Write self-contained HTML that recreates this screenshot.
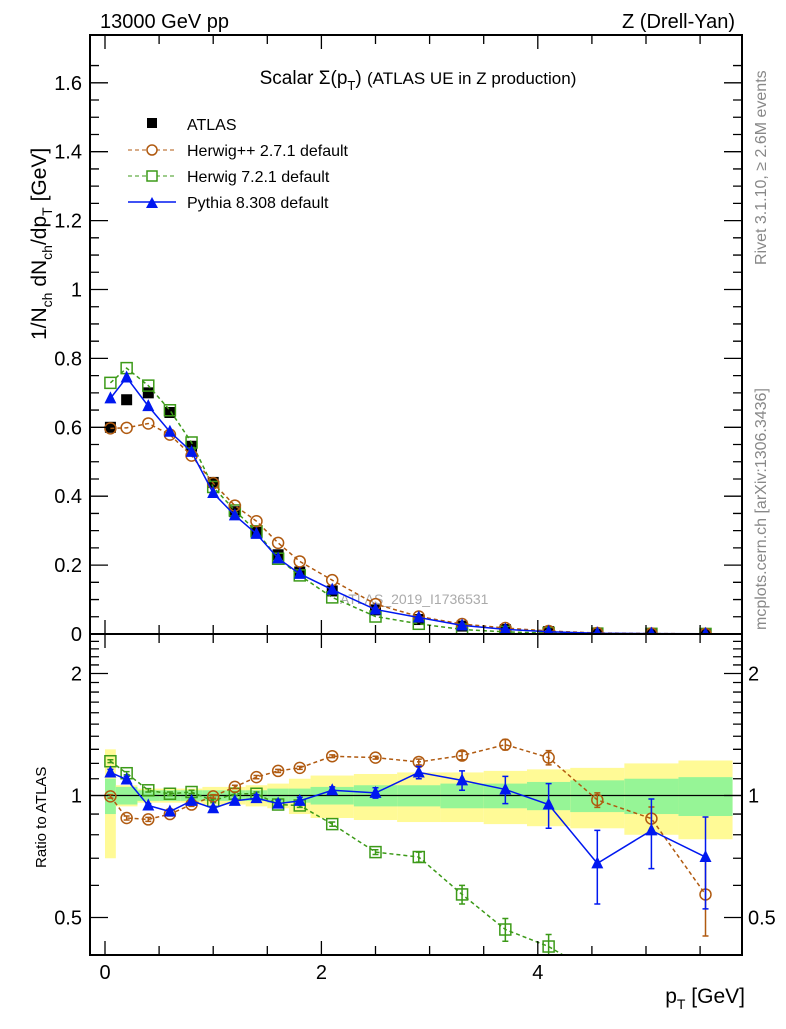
<!DOCTYPE html>
<html><head><meta charset="utf-8"><style>
body{margin:0;background:#fff;width:786px;height:1024px;overflow:hidden}
svg{font-family:"Liberation Sans",sans-serif}
</style></head><body>
<svg id="c" width="786" height="1024" viewBox="0 0 786 1024">
<text x="100" y="28" font-size="20">13000 GeV pp</text>
<text x="735" y="28" font-size="20" text-anchor="end">Z (Drell-Yan)</text>
<text x="418" y="84" font-size="19" text-anchor="middle">Scalar Σ(p<tspan dy="6" font-size="13">T</tspan><tspan dy="-6">) </tspan><tspan font-size="17">(ATLAS UE in Z production)</tspan></text>
<text transform="translate(766,265) rotate(-90)" font-size="16" fill="#888">Rivet 3.1.10, ≥ 2.6M events</text>
<text transform="translate(766,630) rotate(-90)" font-size="16" fill="#888">mcplots.cern.ch [arXiv:1306.3436]</text>
<text transform="translate(46,340) rotate(-90)" font-size="21">1/N<tspan dy="6" font-size="14">ch</tspan><tspan dy="-6"> dN</tspan><tspan dy="6" font-size="14">ch</tspan><tspan dy="-6">/dp</tspan><tspan dy="6" font-size="14">T</tspan><tspan dy="-6"> [GeV]</tspan></text>
<text transform="translate(46,868) rotate(-90)" font-size="15">Ratio to ATLAS</text>
<text x="745" y="1003" font-size="21" text-anchor="end">p<tspan dy="6" font-size="14">T</tspan><tspan dy="-6"> [GeV]</tspan></text>
<text x="340" y="604" font-size="14" fill="#aaa">ATLAS_2019_I1736531</text>
<g id="main"></g><g id="ratio"></g><g id="axes"></g>
<g font-size="16">
<rect x="147" y="118" width="10" height="10"/>
<text x="187" y="130">ATLAS</text>
<line x1="128" y1="150" x2="176" y2="150" stroke="#b05a10" stroke-dasharray="4,3"/>
<circle cx="152" cy="150" r="5" fill="#fff" stroke="#b05a10" stroke-width="1.5"/>
<text x="187" y="156">Herwig++ 2.7.1 default</text>
<line x1="128" y1="176" x2="176" y2="176" stroke="#3c9a18" stroke-dasharray="4,3"/>
<rect x="147" y="171" width="10" height="10" fill="#fff" stroke="#3c9a18" stroke-width="1.5"/>
<text x="187" y="182">Herwig 7.2.1 default</text>
<line x1="128" y1="202" x2="176" y2="202" stroke="#0018f0" stroke-width="1.5"/>
<path d="M146,208 L158,208 L152,197 Z" fill="#0018f0"/>
<text x="187" y="208">Pythia 8.308 default</text>
</g>
</svg>
<script>
const binEdges=[0,0.1,0.3,0.5,0.7,0.9,1.1,1.3,1.5,1.7,1.9,2.3,2.7,3.1,3.5,3.9,4.3,4.8,5.3,5.8];
const atlasValues=[0.600,0.680,0.700,0.643,0.545,0.440,0.355,0.295,0.230,0.180,0.125,0.070,0.042,0.023,0.013,0.007,0.003,0.0015,0.0008];
const pythiaRatio=[1.14,1.095,0.945,0.913,0.97,0.93,0.97,0.985,0.955,0.97,1.03,1.015,1.14,1.09,1.035,0.95,0.68,0.82,0.705];
const pythiaRatioErr=[0.02,0.02,0.01,0.01,0.01,0.01,0.01,0.02,0.02,0.02,0.02,0.03,0.04,0.06,0.08,0.12,0.14,0.16,0.18];
const herwigppRatio=[0.995,0.88,0.873,0.90,0.95,0.995,1.05,1.11,1.15,1.17,1.25,1.24,1.21,1.255,1.335,1.24,0.975,0.877,0.57];
const herwigppRatioErr=[0.01,0.01,0.01,0.01,0.01,0.01,0.01,0.01,0.01,0.01,0.01,0.01,0.02,0.03,0.04,0.05,0.04,0.06,0.12];
const herwig7Ratio=[1.215,1.135,1.03,1.01,1.02,0.97,1.01,1.01,0.95,0.945,0.85,0.725,0.705,0.57,0.467,0.424,0.36,0.3,0.25];
const herwig7RatioErr=[0.01,0.01,0.01,0.01,0.01,0.01,0.01,0.01,0.01,0.01,0.01,0.01,0.02,0.03,0.03,0.03,0.03,0.03,0.03];
const statBand=[0.10,0.05,0.03,0.03,0.03,0.03,0.03,0.03,0.04,0.04,0.05,0.06,0.06,0.07,0.07,0.08,0.09,0.10,0.11];
const totalBand=[0.30,0.06,0.04,0.04,0.04,0.05,0.05,0.06,0.07,0.10,0.12,0.13,0.14,0.14,0.15,0.16,0.17,0.20,0.22];
const mainTicks=[0,0.2,0.4,0.6,0.8,1,1.2,1.4,1.6];
const ratioTicks=[0.5,1,2];
const xTicks=[0,2,4];

const NS="http://www.w3.org/2000/svg";
const L=90,R=742,T=35,MB=634,RB=955;
const X=v=>105+v*108.2;
const Y=v=>634-v*344.5;
const YR=v=>795.5-Math.log2(v)*122;
function mk(tag,attrs,parent){const e=document.createElementNS(NS,tag);for(const k in attrs)e.setAttribute(k,attrs[k]);parent.appendChild(e);return e;}
const main=document.getElementById('main'),ratio=document.getElementById('ratio'),axes=document.getElementById('axes');
const centers=binEdges.slice(0,-1).map((e,i)=>(e+binEdges[i+1])/2);
const defs=mk('defs',{},document.getElementById('c'));
const cm=mk('clipPath',{id:'cm'},defs);mk('rect',{x:L,y:T,width:R-L,height:MB-T},cm);
const cr=mk('clipPath',{id:'cr'},defs);mk('rect',{x:L,y:MB,width:R-L,height:RB-MB},cr);
main.setAttribute('clip-path','url(#cm)');ratio.setAttribute('clip-path','url(#cr)');

for(let i=0;i<centers.length;i++){
  const x1=X(binEdges[i]),x2=X(binEdges[i+1]);
  const y=mk('rect',{x:x1,y:YR(1+totalBand[i]),width:x2-x1,height:YR(1-totalBand[i])-YR(1+totalBand[i]),fill:'#fffa96'},ratio);
  
  
  const g=mk('rect',{x:x1,y:YR(1+statBand[i]),width:x2-x1,height:YR(1-statBand[i])-YR(1+statBand[i]),fill:'#96f596'},ratio);
  
  
}
const one=mk('line',{x1:L,x2:R,y1:YR(1),y2:YR(1),stroke:'#000','stroke-width':1.2},ratio);



function marker(kind,x,y,color,parent,name){
  let e;
  if(kind==='circle')e=mk('circle',{cx:x,cy:y,r:5.5,fill:'none',stroke:color,'stroke-width':1.5},parent);
  else if(kind==='square')e=mk('rect',{x:x-5.5,y:y-5.5,width:11,height:11,fill:'none',stroke:color,'stroke-width':1.5},parent);
  else if(kind==='tri')e=mk('path',{d:`M${x-6},${y+5}L${x+6},${y+5}L${x},${y-7}Z`,fill:color},parent);
  else e=mk('rect',{x:x-5.5,y:y-5.5,width:11,height:11,fill:color},parent);
  
  
}
const series=[
 {r:herwig7Ratio,e:herwig7RatioErr,c:'#3c9a18',k:'square',dash:'4,3',w:1.5,n:'herwig7'},
 {r:herwigppRatio,e:herwigppRatioErr,c:'#b05a10',k:'circle',dash:'4,3',w:1.5,n:'herwigpp'},
 {r:pythiaRatio,e:pythiaRatioErr,c:'#0018f0',k:'tri',dash:'',w:1.5,n:'pythia'}];
atlasValues.forEach((v,i)=>marker('fill',X(centers[i]),Y(v),'#000',main,'atlas-point'));
series.forEach(s=>{
  const mp=centers.map((c,i)=>`${X(c)},${Y(s.r[i]*atlasValues[i])}`).join(' ');
  const pl=mk('polyline',{points:mp,fill:'none',stroke:s.c,'stroke-width':s.w,'stroke-dasharray':s.dash},main);
  
  
  centers.forEach((c,i)=>marker(s.k,X(c),Y(s.r[i]*atlasValues[i]),s.c,main,s.n+'-point'));
  const rp=centers.map((c,i)=>`${X(c)},${YR(s.r[i])}`).join(' ');
  const rl=mk('polyline',{points:rp,fill:'none',stroke:s.c,'stroke-width':s.w,'stroke-dasharray':s.dash},ratio);
  
  
  centers.forEach((c,i)=>{
    const x=X(c),y1=YR(s.r[i]+s.e[i]),y2=YR(s.r[i]-s.e[i]);
    const eb=mk('path',{d:`M${x},${y1}V${y2}M${x-3},${y1}h6M${x-3},${y2}h6`,stroke:s.c,'stroke-width':1.5,fill:'none'},ratio);
    
    
    marker(s.k,x,YR(s.r[i]),s.c,ratio,s.n+'-ratio-point');
  });
});
[[T,MB],[MB,RB]].forEach(([a,b],j)=>{
  const f=mk('rect',{x:L,y:a,width:R-L,height:b-a,fill:'none',stroke:'#000','stroke-width':2},axes);
  
  
});
let d='';
for(let v=0;v<=6.01;v+=0.5){const x=X(v);if(x<L||x>R)continue;
  const len=(Math.abs(v%2)<0.01)?14:9;
  d+=`M${x},${MB}v-${len}M${x},${T}v${len}M${x},${RB}v-${len}M${x},${MB}v${len}`;}
for(let v=0;v<=1.7;v+=0.05){const y=Y(v);if(y<T)continue;const big=Math.abs(v*5-Math.round(v*5))<0.01;const len=big?18:9;
  d+=`M${L},${y}h${len}M${R},${y}h-${len}`;}
[0.5,0.6,0.7,0.8,0.9,1,1.1,1.2,1.3,1.4,1.5,1.6,1.7,1.8,1.9,2,2.1,2.2,2.3,2.4].forEach(v=>{const y=YR(v);if(y<MB)return;const len=ratioTicks.includes(v)?18:9;
  d+=`M${L},${y}h${len}M${R},${y}h-${len}`;});
const tk=mk('path',{d:d,stroke:'#000','stroke-width':1.3,fill:'none'},axes);


mainTicks.forEach(v=>{const t=mk('text',{x:82,y:Y(v)+7,'font-size':20,'text-anchor':'end'},axes);t.textContent=String(v);
  
  });
ratioTicks.forEach(v=>{[[82,'end'],[748,'start']].forEach(([x,a])=>{const t=mk('text',{x:x,y:YR(v)+7,'font-size':20,'text-anchor':a},axes);t.textContent=String(v);
  
  });});
xTicks.forEach(v=>{const t=mk('text',{x:X(v),y:979,'font-size':20,'text-anchor':'middle'},axes);t.textContent=String(v);
  
  });
</script>
</body></html>
